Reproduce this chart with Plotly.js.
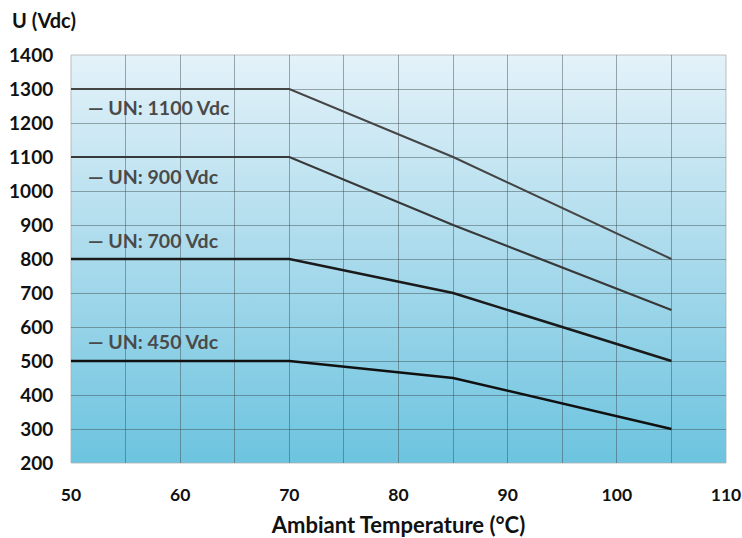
<!DOCTYPE html>
<html>
<head>
<meta charset="utf-8">
<script src="https://cdn.plot.ly/plotly-3.0.1.min.js"></script>
<style>html,body{margin:0;padding:0;background:#fff;}#chart{width:742px;height:538px;}</style>
</head>
<body>
<div id="chart"></div>
<script>
// Ambient temperature (°C) breakpoints
const temps = [50, 70, 85, 105];
// Allowed voltage U (Vdc) for each nominal voltage
const un1100 = [1300, 1300, 1100, 800];
const un900 = [1100, 1100, 900, 650];
const un700 = [800, 800, 700, 500];
const un450 = [500, 500, 450, 300];
const seriesNames = ['UN: 1100 Vdc', 'UN: 900 Vdc', 'UN: 700 Vdc', 'UN: 450 Vdc'];
// label anchor positions (data coords)
const labelX = [51.4, 51.4, 51.4, 51.4];
const labelY = [1245, 1043, 853, 557];

const seriesVals = [un1100, un900, un700, un450];
const lineColors = ['#454545', '#383838', '#1a1a1a', '#111111'];
const lineWidths = [2, 2.2, 2.5, 2.5];

const traces = seriesVals.map((v, i) => ({
  x: temps, y: v, type: 'scatter', mode: 'lines', name: seriesNames[i],
  line: {color: lineColors[i], width: lineWidths[i]}, hoverinfo: 'skip'
}));

const grad = "<svg xmlns='http://www.w3.org/2000/svg' width='100' height='100' preserveAspectRatio='none'><defs><linearGradient id='g' x1='0' y1='0' x2='0' y2='1'><stop offset='0' stop-color='#e4f2f9'/><stop offset='0.5' stop-color='#a9daec'/><stop offset='1' stop-color='#6cc4df'/></linearGradient></defs><rect width='100' height='100' fill='url(#g)'/></svg>";

const FONT = 'Lato, "Open Sans", sans-serif';

const annotations = seriesNames.map((n, i) => ({
  x: labelX[i], y: labelY[i], xref: 'x', yref: 'y', text: '— ' + n,
  showarrow: false, xanchor: 'left', yanchor: 'middle',
  font: {family: FONT, size: 19.5, color: '#4a4a4a', weight: 'bold'}
}));
annotations.push({
  x: -0.093, y: 1.086, xref: 'paper', yref: 'paper', text: 'U (Vdc)', showarrow: false,
  xanchor: 'left', yanchor: 'middle', font: {family: FONT, size: 20, color: '#111', weight: 'bold'}
});

const layout = {
  width: 742, height: 538,
  margin: {l: 71, r: 16, t: 55, b: 75},
  paper_bgcolor: '#ffffff', plot_bgcolor: 'rgba(0,0,0,0)',
  showlegend: false,
  font: {family: FONT, color: '#111'},
  images: [{
    source: 'data:image/svg+xml;charset=utf-8,' + encodeURIComponent(grad),
    xref: 'paper', yref: 'paper', x: 0, y: 1, sizex: 1, sizey: 1,
    sizing: 'stretch', layer: 'below', xanchor: 'left', yanchor: 'top'
  }],
  xaxis: {
    range: [50, 110], dtick: 10, tick0: 50,
    showgrid: true, gridcolor: 'rgba(60,70,75,0.45)', gridwidth: 1,
    minor: {dtick: 5, showgrid: true, gridcolor: 'rgba(60,70,75,0.45)', gridwidth: 1},
    zeroline: false, showline: false,
    ticks: 'outside', ticklen: 16, tickcolor: 'rgba(0,0,0,0)',
    ticklabeloverflow: 'allow',
    tickfont: {family: FONT, size: 17.5, color: '#111', weight: 'bold'},
    title: {text: 'Ambiant Temperature (°C)', standoff: 16,
      font: {family: FONT, size: 22, color: '#111', weight: 'bold'}}
  },
  yaxis: {
    range: [200, 1400], dtick: 100, tick0: 200,
    showgrid: true, gridcolor: 'rgba(60,70,75,0.45)', gridwidth: 1,
    zeroline: false, showline: false,
    ticks: 'outside', ticklen: 13, tickcolor: 'rgba(0,0,0,0)',
    tickfont: {family: FONT, size: 19, color: '#111', weight: 'bold'}
  },
  shapes: [{type: 'rect', xref: 'paper', yref: 'paper', x0: 0, x1: 1, y0: 0, y1: 1,
    line: {color: 'rgba(170,175,178,0.8)', width: 1}, fillcolor: 'rgba(0,0,0,0)', layer: 'below'}],
  annotations: annotations
};

Plotly.newPlot('chart', traces, layout, {displayModeBar: false, staticPlot: true});
</script>
</body>
</html>
